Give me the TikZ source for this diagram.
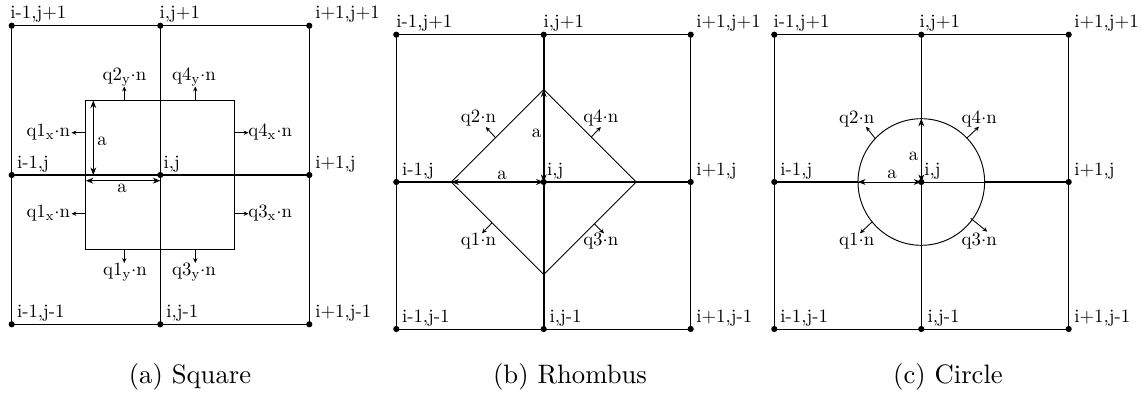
\documentclass[tikz,border=0pt]{standalone}
\usetikzlibrary{arrows.meta}
\newcommand{\cd}{\ensuremath{\cdot}}
\begin{document}
\begin{tikzpicture}[x=0.5814pt,y=-0.5814pt,
  dot/.style={circle,fill=black,inner sep=0pt,minimum size=3.6pt},
  lab/.style={font=\fontsize{10.95}{13}\selectfont,inner sep=0pt},
  captext/.style={font=\fontsize{10}{12}\selectfont,inner sep=0pt,scale=1.55,anchor=base},
  gridline/.style={line width=0.5pt},
  crossline/.style={line width=1pt},
  cell/.style={line width=0.55pt},
  dimarrow/.style={line width=0.55pt,{Stealth[length=4.4pt,width=3.4pt]}-{Stealth[length=4.4pt,width=3.4pt]}},
  fluxarrow/.style={line width=0.5pt,-{Stealth[length=2.8pt,width=2.5pt]}},
]
\useasboundingbox (0,0) rectangle (1140,403);

% ================= Panel (a) =================
\foreach \i/\x in {0/11.7,1/160.3,2/309.3}{
  \foreach \j/\y in {0/324.3,1/175,2/25.7}{
    \node[dot] (A\i\j) at (\x,\y) {};
  }
}
\draw[gridline] (A00.center) rectangle (A22.center);
\draw[line width=0.7pt] (A10.center) -- (A12.center);
\draw[crossline] (A01.center) -- (A21.center);

\coordinate (Asq1) at (85.8,100.5);
\coordinate (Asq2) at (234.8,249.5);
\draw[cell] (Asq1) rectangle (Asq2);

\node[lab,anchor=base west] (LA02) at (10,18.7) {i-1,j+1};
\node[lab,anchor=base west] (LA12) at (159.3,18.7) {i,j+1};
\node[lab,anchor=base west] (LA22) at (315,18.7) {i+1,j+1};
\node[lab,anchor=base west] (LA01) at (16.7,169) {i-1,j};
\node[lab,anchor=base west] (LA11) at (163.3,169) {i,j};
\node[lab,anchor=base west] (LA21) at (315,169) {i+1,j};
\node[lab,anchor=base west] (LA00) at (16.7,317.8) {i-1,j-1};
\node[lab,anchor=base west] (LA10) at (166,317.8) {i,j-1};
\node[lab,anchor=base west] (LA20) at (315,317.8) {i+1,j-1};

% flux arrows (a)
\coordinate (Aq2s) at (124.3,100.5); \coordinate (Aq2t) at (124.3,86.5);
\coordinate (Aq4s) at (195.3,100.5); \coordinate (Aq4t) at (195.3,86.5);
\coordinate (Aq1us) at (85.8,132.7); \coordinate (Aq1ut) at (71.5,132.7);
\coordinate (Aq4xs) at (234.8,132.7); \coordinate (Aq4xt) at (248.5,132.7);
\coordinate (Aq1ls) at (85.8,213.7); \coordinate (Aq1lt) at (71.5,213.7);
\coordinate (Aq3xs) at (234.8,213.7); \coordinate (Aq3xt) at (248.5,213.7);
\coordinate (Aq1ys) at (124.3,249.5); \coordinate (Aq1yt) at (124.3,263);
\coordinate (Aq3ys) at (195.3,249.5); \coordinate (Aq3yt) at (195.3,263);
\draw[fluxarrow] (Aq2s) -- (Aq2t);
\draw[fluxarrow] (Aq4s) -- (Aq4t);
\draw[fluxarrow] (Aq1us) -- (Aq1ut);
\draw[fluxarrow] (Aq4xs) -- (Aq4xt);
\draw[fluxarrow] (Aq1ls) -- (Aq1lt);
\draw[fluxarrow] (Aq3xs) -- (Aq3xt);
\draw[fluxarrow] (Aq1ys) -- (Aq1yt);
\draw[fluxarrow] (Aq3ys) -- (Aq3yt);
\node[lab,anchor=base] (FA2y) at (124.5,81) {q2\textsubscript{y}\cd n};
\node[lab,anchor=base] (FA4y) at (194,81) {q4\textsubscript{y}\cd n};
\node[lab,anchor=base east] (FA1xu) at (70.5,136.7) {q1\textsubscript{x}\cd n};
\node[lab,anchor=base west] (FA4x) at (248,136.7) {q4\textsubscript{x}\cd n};
\node[lab,anchor=base east] (FA1xl) at (70.5,217.7) {q1\textsubscript{x}\cd n};
\node[lab,anchor=base west] (FA3x) at (248,217.7) {q3\textsubscript{x}\cd n};
\node[lab,anchor=base] (FA1y) at (125,276) {q1\textsubscript{y}\cd n};
\node[lab,anchor=base] (FA3y) at (194,276) {q3\textsubscript{y}\cd n};

% dimension arrows (a)
\coordinate (Aav1) at (93.3,100.5); \coordinate (Aav2) at (93.3,175);
\coordinate (Aah1) at (85.8,180.7); \coordinate (Aah2) at (160.3,180.7);
\draw[dimarrow] (Aav1) -- (Aav2);
\draw[dimarrow] (Aah1) -- (Aah2);
\node[lab] (AaV) at (102,141) {a};
\node[lab] (AaH) at (122,188) {a};

\node[captext] (capA) at (190,383) {(a) Square};

% ================= Panel (b) =================
\foreach \i/\x in {0/396.3,1/543.7,2/690.7}{
  \foreach \j/\y in {0/329,1/182,2/34.7}{
    \node[dot] (B\i\j) at (\x,\y) {};
  }
}
\draw[gridline] (B00.center) rectangle (B22.center);
\draw[crossline] (B01.center) -- (B21.center);
\draw[crossline] (B10.center) -- (B12.center);

\coordinate (BL) at (451.2,182);
\coordinate (BT) at (543.7,89.5);
\coordinate (BR) at (636.2,182);
\coordinate (BB) at (543.7,274.5);
\draw[cell] (BL) -- (BT) -- (BR) -- (BB) -- cycle;

\node[lab,anchor=base west] (LB02) at (396,28) {i-1,j+1};
\node[lab,anchor=base west] (LB12) at (543.3,28) {i,j+1};
\node[lab,anchor=base west] (LB22) at (696,28) {i+1,j+1};
\node[lab,anchor=base west] (LB01) at (401.7,175.5) {i-1,j};
\node[lab,anchor=base west] (LB11) at (546.7,175.5) {i,j};
\node[lab,anchor=base west] (LB21) at (696,175.5) {i+1,j};
\node[lab,anchor=base west] (LB00) at (401.7,322.5) {i-1,j-1};
\node[lab,anchor=base west] (LB10) at (549.3,322.5) {i,j-1};
\node[lab,anchor=base west] (LB20) at (696,322.5) {i+1,j-1};

\coordinate (Bq2s) at (495.5,137.7); \coordinate (Bq2t) at (485.8,127);
\coordinate (Bq4s) at (591.2,137); \coordinate (Bq4t) at (600.9,127);
\coordinate (Bq1s) at (492,222.8); \coordinate (Bq1t) at (482,233.3);
\coordinate (Bq3s) at (594.3,223.9); \coordinate (Bq3t) at (604,233.3);
\draw[fluxarrow] (Bq2s) -- (Bq2t);
\draw[fluxarrow] (Bq4s) -- (Bq4t);
\draw[fluxarrow] (Bq1s) -- (Bq1t);
\draw[fluxarrow] (Bq3s) -- (Bq3t);
\node[lab,anchor=base] (FB2) at (478.5,122.7) {q2\cd n};
\node[lab,anchor=base] (FB4) at (600.8,122.7) {q4\cd n};
\node[lab,anchor=base] (FB1) at (478.5,246) {q1\cd n};
\node[lab,anchor=base] (FB3) at (600.8,246) {q3\cd n};

\draw[dimarrow,line width=1pt] (B11.center) -- (BT);
\draw[dimarrow,line width=1pt] (BL) -- (B11.center);
\node[lab] (BaV) at (536.7,133) {a};
\node[lab] (BaH) at (502,175) {a};

\node[captext] (capB) at (570,383) {(b) Rhombus};

% ================= Panel (c) =================
\foreach \i/\x in {0/774.3,1/921.3,2/1068.7}{
  \foreach \j/\y in {0/329,1/182,2/34.7}{
    \node[dot] (C\i\j) at (\x,\y) {};
  }
}
\draw[gridline] (C00.center) rectangle (C22.center);
\draw[gridline] (C01.center) -- (C21.center);
\draw[gridline] (C10.center) -- (C12.center);
\coordinate (Cc) at (921.3,182);
\draw[cell] (Cc) circle[radius=63.3];
\coordinate (CL) at (858,182);
\coordinate (CR) at (984.6,182);
\coordinate (CT) at (921.3,118.7);
\coordinate (CBot) at (921.3,245.3);
\draw[line width=0.75pt] (C01.center) -- (CL);
\draw[line width=0.75pt] (CR) -- (C21.center);
\draw[line width=0.75pt] (C12.center) -- (CT);
\draw[line width=0.75pt] (CBot) -- (C10.center);

\node[lab,anchor=base west] (LC02) at (773.3,28) {i-1,j+1};
\node[lab,anchor=base west] (LC12) at (919.3,28) {i,j+1};
\node[lab,anchor=base west] (LC22) at (1074,28) {i+1,j+1};
\node[lab,anchor=base west] (LC01) at (780,175.5) {i-1,j};
\node[lab,anchor=base west] (LC11) at (924,175.5) {i,j};
\node[lab,anchor=base west] (LC21) at (1074,175.5) {i+1,j};
\node[lab,anchor=base west] (LC00) at (780,322.5) {i-1,j-1};
\node[lab,anchor=base west] (LC10) at (927.3,322.5) {i,j-1};
\node[lab,anchor=base west] (LC20) at (1074,322.5) {i+1,j-1};

\coordinate (Cq2s) at (875,138.3); \coordinate (Cq2t) at (866,126.7);
\coordinate (Cq4s) at (966.7,138.3); \coordinate (Cq4t) at (979,126.7);
\coordinate (Cq1s) at (872.3,221.7); \coordinate (Cq1t) at (860,233.3);
\coordinate (Cq3s) at (970.7,218.3); \coordinate (Cq3t) at (987.3,231.7);
\draw[fluxarrow] (Cq2s) -- (Cq2t);
\draw[fluxarrow] (Cq4s) -- (Cq4t);
\draw[fluxarrow] (Cq1s) -- (Cq1t);
\draw[fluxarrow] (Cq3s) -- (Cq3t);
\node[lab,anchor=base] (FC2) at (856.7,123.3) {q2\cd n};
\node[lab,anchor=base] (FC4) at (979.2,123.3) {q4\cd n};
\node[lab,anchor=base] (FC1) at (856.7,246) {q1\cd n};
\node[lab,anchor=base] (FC3) at (979.2,246) {q3\cd n};

\draw[dimarrow,line width=0.45pt] (Cc) -- (CT);
\draw[dimarrow,line width=0.45pt] (CL) -- (Cc);
\node[lab] (CaV) at (913.7,156) {a};
\node[lab] (CaH) at (892.2,174) {a};

\node[captext] (capC) at (948,383) {(c) Circle};
\end{tikzpicture}
\end{document}
